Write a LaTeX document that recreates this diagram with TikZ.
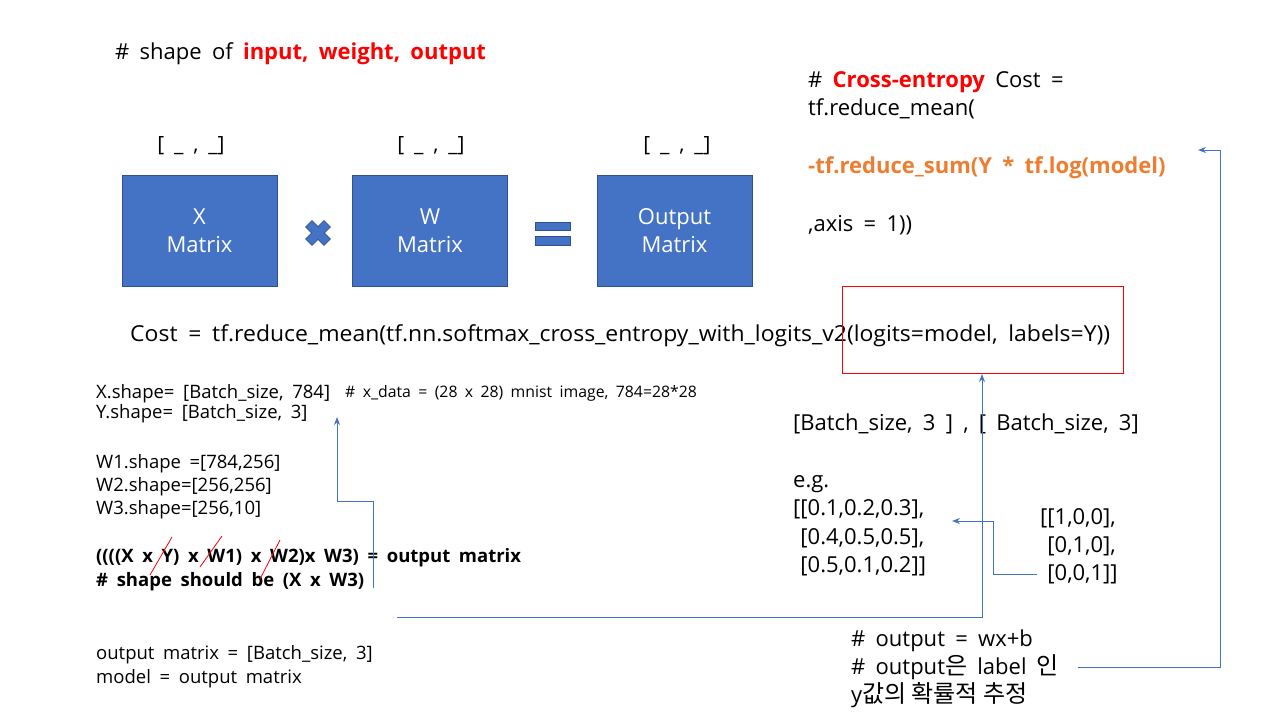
\documentclass[tikz,border=0pt]{standalone}
\usepackage{fontspec}
\usepackage{graphicx}
\setmainfont{Open Sans}[WordSpace=1.8]
\newfontfamily\kr{Noto Sans CJK KR}
\usetikzlibrary{arrows.meta}
\definecolor{boxblue}{HTML}{4472C4}
\definecolor{boxedge}{HTML}{2F528F}
\definecolor{lineblue}{HTML}{4472C4}
\definecolor{hred}{HTML}{FF0000}
\definecolor{horange}{HTML}{ED7D31}
\newcommand{\fs}[1]{\fontsize{#1}{#1}\selectfont}
\newcommand{\krt}[1]{{\kr\fontsize{24}{24}\selectfont #1}}
\tikzset{
  txt/.style={anchor=base west, inner sep=0pt, font=\fs{18.5}},
  big/.style={anchor=base west, inner sep=0pt, font=\fs{22}},
  mbox/.style={draw=boxedge, fill=boxblue, line width=1pt, minimum width=155pt, minimum height=111pt, inner sep=0pt, text=white, font=\fontsize{22}{28}\selectfont, align=center},
  conn/.style={draw=lineblue, line width=1pt, -{Stealth[length=8pt,width=6pt]}},
  slash/.style={draw=hred, line width=0.8pt}
}
\begin{document}
\begin{tikzpicture}[x=1pt,y=-1pt]
\useasboundingbox (0,0) rectangle (1280,720);
\fill[white] (0,0) rectangle (1280,720);
% title
\node[big] (title) at (115,59) {\# shape of \textcolor{hred}{\textbf{input, weight, output}}};
% brackets
\node[anchor=base, inner sep=0pt, font=\fs{21}] (b1) at (191,151) {[ \_ , \_]};
\node[anchor=base, inner sep=0pt, font=\fs{21}] (b2) at (431,151) {[ \_ , \_]};
\node[anchor=base, inner sep=0pt, font=\fs{21}] (b3) at (677,151) {[ \_ , \_]};
% boxes
\node[mbox] (X) at (199.5,231) {X\\Matrix};
\node[mbox] (W) at (430,231) {W\\Matrix};
\node[mbox] (O) at (674.5,231) {Output\\Matrix};
% multiply symbol
\begin{scope}[shift={(318,233)}]
\fill[boxblue, draw=boxedge, line width=0.6pt, rotate=45] (-13,-4.5) rectangle (13,4.5);
\fill[boxblue, draw=boxedge, line width=0.6pt, rotate=-45] (-13,-4.5) rectangle (13,4.5);
\fill[boxblue, rotate=45] (-12.5,-4) rectangle (12.5,4);
\end{scope}
\node[inner sep=0pt] (mul) at (318,233) {};
% equals
\fill[boxblue, draw=boxedge, line width=0.6pt] (535,222) rectangle (570,230.5);
\fill[boxblue, draw=boxedge, line width=0.6pt] (535,236.5) rectangle (570,245);
\node[inner sep=0pt] (eq) at (552,233) {};
% cross entropy block
\node[big] (ce1) at (808,87) {\# \textcolor{hred}{\textbf{Cross-entropy}} Cost =};
\node[big] (ce2) at (808,115) {tf.reduce\_mean(};
\node[big, text=horange, font=\fs{22}\bfseries] (ce3) at (808,173) {-tf.reduce\_sum(Y * tf.log(model)};
\node[big] (ce4) at (808,231) {,axis = 1))};
% cost line
\node[anchor=base west, inner sep=0pt, font=\fs{22}] (cost) at (130,341) {\resizebox{980pt}{\height}{Cost = tf.reduce\_mean(tf.nn.softmax\_cross\_entropy\_with\_logits\_v2(logits=model, labels=Y))}};
% red box
\node[draw=hred, line width=0.9pt, minimum width=281pt, minimum height=87pt, inner sep=0pt] (rbox) at (982.5,329.5) {};
% left block
\node[txt] (xs) at (96,398) {X.shape= [Batch\_size, 784]};
\node[anchor=base west, inner sep=0pt, font=\fs{15.8}] (xc) at (345,397) {\# x\_data = (28 x 28) mnist image, 784=28*28};
\node[txt] (ys) at (96,418) {Y.shape= [Batch\_size, 3]};
\node[txt] (w1) at (96,468) {W1.shape =[784,256]};
\node[txt] (w2) at (96,491) {W2.shape=[256,256]};
\node[txt] (w3) at (96,514) {W3.shape=[256,10]};
\node[txt, font=\fs{18.5}\bfseries] (prod) at (96,562) {((((X x Y) x W1) x W2)x W3) = output matrix};
\node[txt, font=\fs{18.5}\bfseries] (should) at (96,586) {\# shape should be (X x W3)};
\node[txt] (om) at (96,659) {output matrix = [Batch\_size, 3]};
\node[txt] (model) at (96,683) {model = output matrix};
% red slashes
\draw[slash] (150,575) -- (172,537);
\draw[slash] (200,567) -- (222,536);
\draw[slash] (260,579) -- (280,540);
% right block
\node[big] (bs) at (793,430) {[Batch\_size, 3 ] , [ Batch\_size, 3]};
\node[big] (eg) at (793,487) {e.g.};
\node[big] (p1) at (793,515) {[[0.1,0.2,0.3],};
\node[big] (p2) at (793,544) {\phantom{[}[0.4,0.5,0.5],};
\node[big] (p3) at (793,572) {\phantom{[}[0.5,0.1,0.2]]};
\node[big] (l1) at (1040,524) {[[1,0,0],};
\node[big] (l2) at (1040,552) {\phantom{[}[0,1,0],};
\node[big] (l3) at (1040,580) {\phantom{[}[0,0,1]]};
\node[big] (o1) at (851,646) {\# output = wx+b};
\node[big] (o2) at (851,674) {\# output\krt{은} label \krt{인}};
\node[big] (o3) at (851,702) {y\krt{값의 확률적 추정}};
% connector coordinates
\coordinate (a1s) at (397,617);
\coordinate (a1e) at (982,374);
\coordinate (a2s) at (373,588);
\coordinate (a2e) at (337,417);
\coordinate (a3s) at (1037,574);
\coordinate (a3e) at (952,521);
\coordinate (a4s) at (1078,667);
\coordinate (a4e) at (1198,150);
\draw[conn] (a1s) -- (982,617) -- (a1e);
\draw[conn] (a2s) -- (373,501) -- (337,501) -- (a2e);
\draw[conn] (a3s) -- (993,574) -- (993,521) -- (a3e);
\draw[conn] (a4s) -- (1220,667) -- (1220,150) -- (a4e);
\end{tikzpicture}
\end{document}
